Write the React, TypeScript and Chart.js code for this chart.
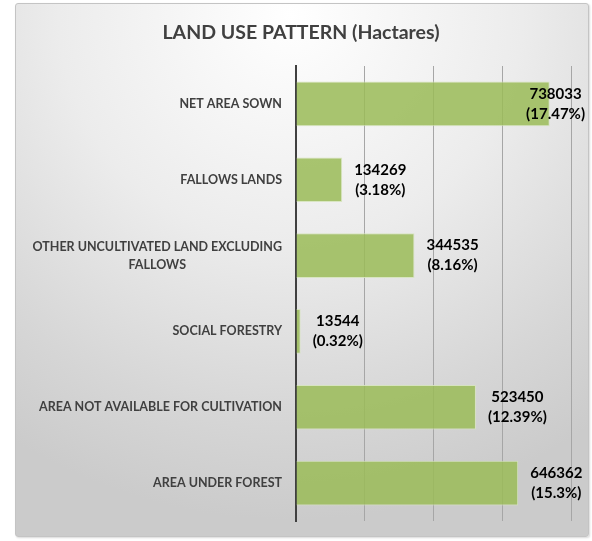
import React, { useEffect, useRef } from "react";
import { Chart, registerables } from "chart.js";

Chart.register(...registerables);

const categories: string[][] = [
  ["NET AREA SOWN"],
  ["FALLOWS LANDS"],
  ["OTHER UNCULTIVATED LAND EXCLUDING", "FALLOWS"],
  ["SOCIAL FORESTRY"],
  ["AREA NOT AVAILABLE FOR CULTIVATION"],
  ["AREA UNDER FOREST"],
];
const areaValues: number[] = [738033, 134269, 344535, 13544, 523450, 646362];
const percentLabels: string[] = ["17.47%", "3.18%", "8.16%", "0.32%", "12.39%", "15.3%"];
const titleText = "LAND USE PATTERN (Hactares)";
const xMax = 800000;
const xStep = 200000;

const FONT = "Lato, 'DejaVu Sans', sans-serif";

const customText = {
  id: "customText",
  afterDatasetsDraw(chart: any) {
    const ctx = chart.ctx;
    const area = chart.chartArea;
    const yScale = chart.scales.y;
    ctx.save();
    // title
    ctx.font = `bold 19.5px ${FONT}`;
    ctx.fillStyle = "#404040";
    ctx.textAlign = "center";
    ctx.textBaseline = "middle";
    ctx.fillText(titleText, 301, 33);

    // category labels
    ctx.font = `bold 12.5px ${FONT}`;
    ctx.fillStyle = "#404040";
    categories.forEach((lines, i) => {
      const yc = yScale.getPixelForValue(i);
      const widths = lines.map((l) => ctx.measureText(l).width);
      const maxW = Math.max(...widths);
      const right = area.left - 14;
      const cx = right - maxW / 2;
      const lh = 18;
      const startY = yc - ((lines.length - 1) * lh) / 2;
      lines.forEach((l, j) => {
        ctx.textAlign = "center";
        ctx.fillText(l, cx, startY + j * lh);
      });
    });

    // data labels
    const meta = chart.getDatasetMeta(0);
    ctx.font = `bold 15px ${FONT}`;
    ctx.fillStyle = "#000000";
    meta.data.forEach((bar: any, i: number) => {
      const lines = [String(areaValues[i]), `(${percentLabels[i]})`];
      const widths = lines.map((l) => ctx.measureText(l).width);
      const maxW = Math.max(...widths);
      let left = bar.x + 12;
      if (left + maxW > 585) left = 585 - maxW;
      const cx = left + maxW / 2;
      ctx.textAlign = "center";
      ctx.fillText(lines[0], cx, bar.y - 10);
      ctx.fillText(lines[1], cx, bar.y + 10);
    });
    ctx.restore();
  },
};

export default function App() {
  const ref = useRef<HTMLCanvasElement>(null);
  useEffect(() => {
    document.body.style.margin = "0";
    const chart = new Chart(ref.current!, {
      type: "bar",
      data: {
        labels: categories.map((c) => c.join(" ")),
        datasets: [
          {
            data: areaValues,
            backgroundColor: "rgba(155,187,89,0.86)",
            borderColor: "rgba(214,228,188,0.9)",
            borderWidth: 1,
            barPercentage: 0.59,
            categoryPercentage: 1,
          },
        ],
      },
      options: {
        indexAxis: "y",
        animation: false,
        responsive: false,
        maintainAspectRatio: false,
        layout: { padding: { left: 296, right: 21, top: 66, bottom: 20 } },
        plugins: {
          legend: { display: false },
          title: { display: false },
          tooltip: { enabled: false },
        },
        scales: {
          x: {
            min: 0,
            max: xMax,
            ticks: { display: false, stepSize: xStep },
            grid: { color: "#a6a6a6", lineWidth: 1, drawTicks: false },
            border: { display: false },
          },
          y: {
            ticks: { display: false },
            grid: { display: false, drawTicks: false },
            border: { display: true, color: "#404040", width: 2 },
          },
        },
      },
      plugins: [customText],
    });
    return () => chart.destroy();
  }, []);
  return (
    <div style={{ position: "fixed", left: 0, top: 0, width: 592, height: 541, background: "#ffffff" }}>
      <div
        style={{
          position: "absolute",
          left: 15,
          top: 3,
          width: 572,
          height: 532,
          border: "1px solid #c4c4c4",
          borderRadius: 3,
          boxShadow: "1px 1px 2px rgba(0,0,0,0.15)",
          background:
            "radial-gradient(ellipse 90% 95% at 48% 2%, #ffffff 0%, #ececec 45%, #d6d6d6 80%, #cbcbcb 100%)",
        }}
      />
      <canvas ref={ref} width={592} height={541} style={{ position: "absolute", left: 0, top: 0 }} />
    </div>
  );
}
